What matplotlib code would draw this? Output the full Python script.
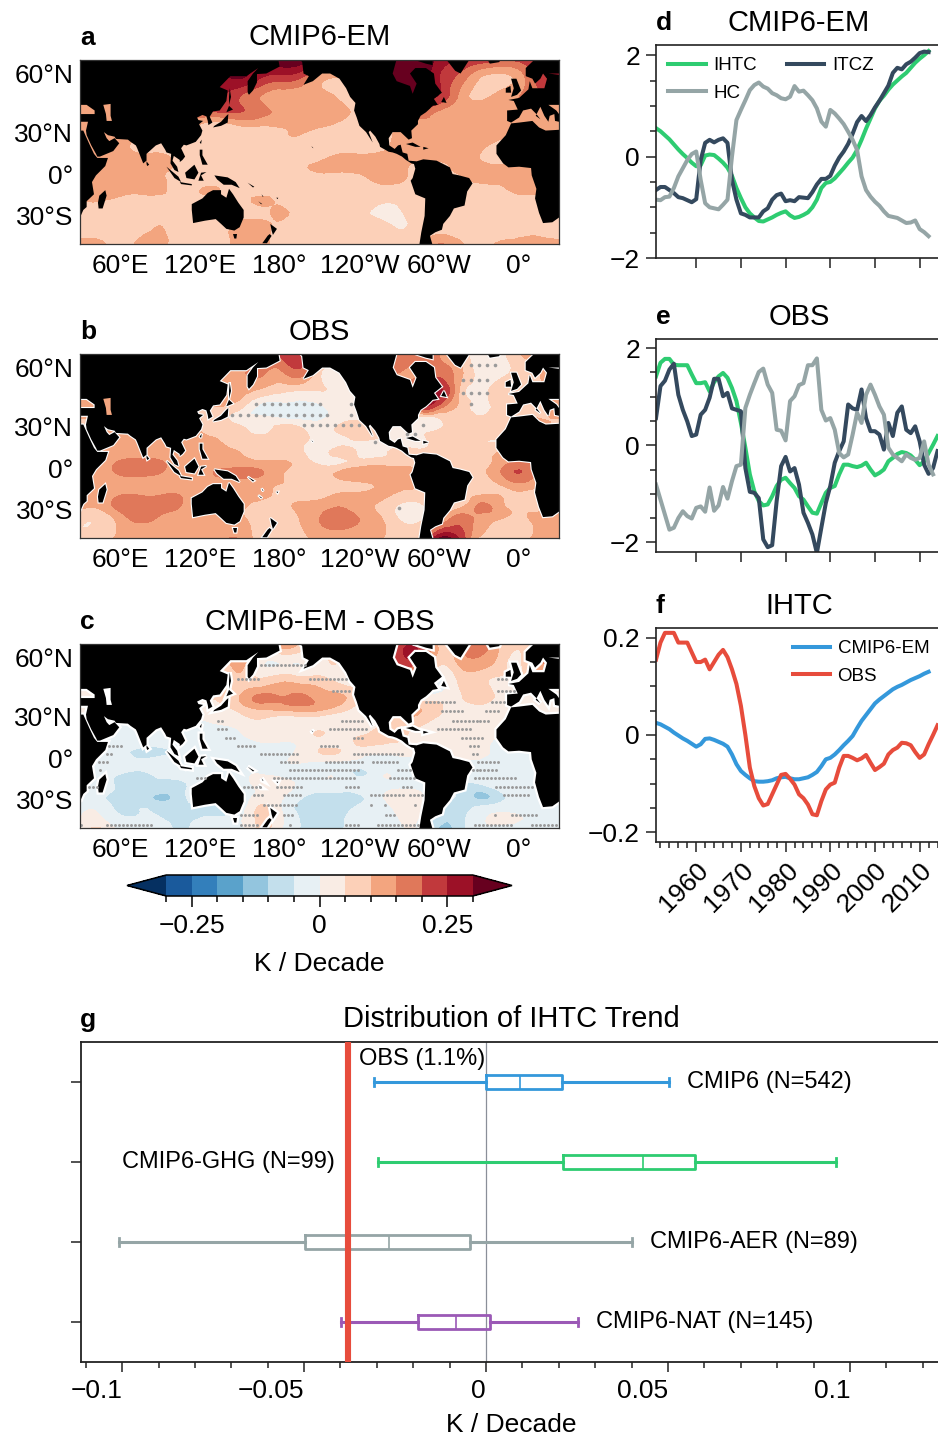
import numpy as np
import matplotlib
matplotlib.use('Agg')
import matplotlib.pyplot as plt
from matplotlib.colors import ListedColormap, BoundaryNorm
from matplotlib.ticker import MultipleLocator, FixedLocator
from matplotlib.tri import Triangulation, UniformTriRefiner

plt.rcParams['font.family'] = ['Liberation Sans', 'DejaVu Sans']

W, H = 938, 1437

# grid of the maps (degrees)
lons = [30, 45, 60, 75, 90, 105, 120, 135, 150, 165, 180, 195, 210, 225, 240, 255, 270, 285, 300, 315, 330, 345, 360, 375, 390]
lats = [65, 58, 50, 42, 35, 28, 20, 12, 4, -4, -12, -20, -28, -36, -47]

# SST trend in 0.01 K / decade
field_a = [
    [25, 25, 25, 25, 25, 25, 25, 25, 30, 32, 34, 34, 30, 20, 20, 25, 35, 35, 28, 25, 24, 22, 22, 25, 25],
    [25, 25, 25, 25, 25, 25, 25, 28, 30, 25, 22, 20, 12, 9, 9, 25, 35, 35, 25, 18, 10, 8, 12, 22, 25],
    [15, 15, 15, 15, 15, 15, 20, 25, 20, 15, 12, 12, 12, 9, 8, 20, 30, 28, 24, 14, 9, 12, 15, 18, 15],
    [12, 12, 12, 12, 12, 14, 18, 20, 20, 17, 14, 12, 12, 12, 8, 10, 15, 18, 14, 12, 12, 11, 11, 12, 12],
    [11, 11, 11, 11, 11, 11, 10, 8, 11, 11, 11, 11, 11, 9, 7, 8, 10, 13, 13, 12, 11, 11, 12, 12, 11],
    [11, 11, 11, 11, 11, 11, 9, 8, 8, 8, 9, 10, 8, 7, 7, 8, 11, 12, 12, 12, 12, 11, 11, 11, 11],
    [11, 11, 11, 9, 9, 9, 8, 8, 8, 8, 8, 8, 8, 8, 8, 9, 11, 12, 12, 11, 11, 8, 8, 11, 11],
    [11, 11, 11, 11, 11, 9, 8, 8, 8, 8, 9, 8, 9, 11, 11, 11, 11, 11, 11, 11, 10, 8, 8, 11, 11],
    [11, 11, 11, 11, 11, 9, 8, 8, 8, 8, 8, 9, 11, 11, 11, 11, 11, 8, 8, 11, 11, 11, 11, 11, 11],
    [11, 11, 11, 11, 11, 8, 8, 8, 8, 8, 8, 8, 8, 8, 9, 11, 11, 8, 8, 9, 11, 11, 11, 11, 11],
    [9, 11, 11, 11, 11, 8, 10, 10, 8, 8, 8, 8, 8, 8, 8, 8, 8, 8, 8, 8, 8, 9, 11, 11, 11],
    [10, 10, 9, 8, 8, 8, 8, 8, 8, 11, 9, 8, 8, 8, 8, 6, 6, 8, 8, 8, 8, 8, 8, 8, 10],
    [8, 8, 8, 8, 8, 8, 8, 8, 8, 8, 11, 8, 8, 8, 7, 3, 4, 8, 8, 8, 8, 8, 8, 8, 8],
    [8, 8, 8, 8, 10, 8, 8, 8, 12, 12, 9, 8, 8, 8, 8, 8, 4, 8, 8, 8, 8, 8, 9, 9, 8],
    [11, 11, 8, 11, 11, 8, 8, 8, 12, 12, 8, 8, 8, 8, 8, 8, 8, 8, 16, 11, 8, 11, 11, 11, 11],
]
field_b = [
    [10, 10, 10, 10, 10, 10, 10, 12, 14, 16, 22, 24, 14, 8, 8, 12, 16, 16, 15, 8, 3, 3, 10, 12, 12],
    [10, 10, 10, 10, 10, 10, 12, 14, 14, 16, 14, 18, 6, 3, 3, 10, 15, 15, 18, 12, 3, 3, 7, 10, 10],
    [11, 11, 11, 11, 11, 11, 12, 14, 12, 9, 6, 5, 5, 4, 4, 8, 15, 20, 26, 10, 3, 8, 10, 10, 11],
    [12, 12, 12, 12, 12, 10, 10, 10, 7, -1, -2, -2, -1, 3, 2, 5, 10, 25, 18, 9, 3, 8, 8, 9, 12],
    [10, 10, 10, 10, 10, 10, 10, 8, 2, 1, 0, -1, -1, 3, 4, 3, 3, 2, 5, 8, 6, 8, 10, 10, 10],
    [10, 10, 10, 10, 10, 10, 10, 9, 7, 3, 7, 6, 3, 6, 8, 6, 3, 3, 5, 8, 9, 8, 9, 10, 10],
    [11, 11, 11, 11, 11, 11, 11, 10, 8, 7, 7, 6, 3, 3, 5, 4, 3, 3, 8, 8, 6, 5, 8, 10, 11],
    [10, 10, 11, 12, 12, 12, 12, 11, 10, 8, 7, 6, 3, 7, 4, 3, 7, 6, 8, 8, 7, 10, 11, 11, 10],
    [11, 11, 16, 17, 16, 12, 12, 12, 12, 11, 11, 8, 4, 4, 7, 8, 8, 8, 8, 7, 8, 12, 16, 12, 11],
    [11, 11, 16, 17, 15, 12, 13, 16, 17, 16, 11, 8, 8, 11, 13, 14, 14, 10, 10, 9, 9, 14, 20, 14, 11],
    [11, 11, 11, 11, 11, 12, 11, 11, 11, 11, 10, 8, 7, 8, 9, 11, 12, 10, 10, 9, 8, 10, 14, 11, 11],
    [11, 11, 15, 15, 15, 15, 11, 11, 11, 11, 9, 8, 8, 11, 11, 11, 9, 9, 9, 8, 10, 10, 9, 10, 11],
    [11, 11, 17, 18, 17, 15, 11, 11, 11, 8, 8, 11, 13, 15, 12, 9, 4, 3, 9, 9, 16, 12, 9, 9, 9],
    [6, 6, 12, 16, 14, 12, 12, 12, 11, 8, 7, 10, 15, 18, 15, 11, 5, 4, 10, 18, 13, 10, 9, 11, 11],
    [5, 8, 11, 11, 11, 11, 11, 14, 15, 7, 5, 8, 11, 10, 10, 10, 8, 8, 32, 25, 9, 8, 9, 11, 11],
]
field_c = [
    [5, 5, 5, 5, 5, 5, 5, 5, 5, 5, 15, 10, 5, 5, 5, 15, 22, 22, 8, 12, 20, 9, 7, 6, 6],
    [5, 5, 5, 5, 5, 5, 5, 6, 12, 2, 0, 0, 3, 5, 5, 12, 20, 20, 6, 11, 13, 8, 4, 14, 10],
    [3, 3, 3, 3, 3, 3, 5, 6, 8, 6, 9, 8, 7, 4, 3, 3, 3, -3, -3, 6, 7, 4, 4, 3, 3],
    [3, 3, 3, 3, 3, 3, 5, 6, 10, 16, 15, 16, 13, 11, 6, 3, 2, 0, 2, 4, 9, 3, 2, 2, 3],
    [2, 2, 2, 2, 2, 2, 1, 3, 7, 11, 12, 13, 12, 8, 3, 3, 9, 10, 6, 2, 3, 2, 1, 2, 2],
    [1, 1, 1, 1, 1, 0, 0, 1, 3, 5, 3, 3, 3, 2, 2, 3, 9, 8, 4, 3, 3, 2, 2, 1, 1],
    [-2, -2, -2, -2, -2, -2, -2, -1, 0, 2, 2, 3, 5, 3, 3, 6, 6, 4, 2, 2, 3, 3, 1, 1, 1],
    [-2, -3, -3, -3, -3, -2, -2, -1, -1, 0, 0, 1, 4, 3, 6, 6, 5, 4, 2, 2, 3, -2, -2, -2, -2],
    [-2, -3, -4, -6, -6, -4, -2, -3, -3, -1, -1, 1, 5, 5, 2, 1, 1, 1, 1, 2, 2, -2, -4, -4, -2],
    [-1, -1, -2, -4, -2, -1, -1, -2, -2, -2, -1, 0, -1, -1, -2, -3, -1, -1, -1, -1, -1, -2, -3, -3, -2],
    [-3, -3, -5, -6, -4, -3, -1, -1, -1, 0, -1, -1, -1, -1, -6, -1, -1, -1, -1, -1, -1, -1, -2, -2, -2],
    [-2, -2, -6, -6, -6, -6, -3, -3, -3, 2, 3, -1, -2, -2, -1, -1, -1, -1, -2, -6, -6, -2, -1, -1, -2],
    [-4, -4, -7, -7, -11, -7, -3, -3, -3, 2, 1, -4, -7, -7, -6, -1, 2, 1, -3, -6, -11, -7, -3, -1, -1],
    [-1, -1, -6, -5, -6, -6, -6, -6, -3, 6, 1, -6, -7, -7, -3, -1, 1, 2, -7, -8, -3, -1, -1, -1, -1],
    [3, 6, -1, -1, -2, -6, -3, -1, -2, 6, 1, -5, -6, -6, -1, -1, -1, -1, -11, -8, -1, -1, -1, -1, -1],
]

levels = [-0.3, -0.25, -0.2, -0.15, -0.1, -0.05, 0, 0.05, 0.1, 0.15, 0.2, 0.25, 0.3]
colors = ['#1a5a9c', '#337fbb', '#5aa2cb', '#93c5de', '#c3dfec', '#e7f0f4',
          '#f9ece4', '#fcd0b8', '#f3a57f', '#e0785a', '#c1393c', '#9c1127']
under_color, over_color = '#053061', '#67001f'

# land outlines, lon / lat
asia = [(30, 65), (179, 65), (180, 62.5), (170, 60), (163, 59.8), (163, 56.5), (160, 53), (157, 51), (156, 52),
        (156, 57), (160, 60), (164, 62), (155, 59), (143, 59), (135, 54.5), (141, 53), (140, 48), (135, 43),
        (130, 42.5), (127.5, 39.5), (129.5, 36), (126.5, 34.5), (126, 37), (125, 39.7), (122, 40.5), (118, 39),
        (119, 37.5), (122.5, 37), (119.5, 35), (122, 31), (121, 28), (117, 23.5), (110, 21), (108, 21.5),
        (106, 19), (109, 13), (107, 10.5), (105, 9), (105, 10.5), (100.5, 13.5), (99.5, 10), (103, 5.5),
        (104, 1.5), (101, 3), (98, 8), (98.5, 15), (95, 16), (94, 18), (91, 22.5), (87, 21), (80, 15), (80, 10),
        (77.5, 8), (73, 19), (72, 21), (68, 23.5), (66, 25), (57, 25.5), (56, 27), (51, 28), (48, 30), (50, 26),
        (52, 24), (56, 26), (59.5, 22.5), (55, 17), (45, 13), (43, 13), (42, 15), (38.5, 21), (35, 28), (34.5, 31),
        (36, 36.5), (30, 36.5), (30, 41), (41, 41), (41, 43), (37, 45), (35, 46), (30, 46)]
africa_east = [(30, 31), (32.5, 31), (34, 28), (37.5, 21), (40.5, 15), (43, 12), (51, 12), (49, 6), (42, -1), (39, -6),
               (40.5, -15), (35, -20), (35, -24), (32.5, -26), (30, -31)]
madagascar = [(49, -12), (50, -16), (47, -25), (44, -25), (43.5, -21), (44.5, -16)]
australia = [(114, -22), (122, -18), (126, -14), (130, -12), (136, -12), (136, -15), (140, -17.5), (142, -11),
             (145, -15), (149, -21), (153, -26), (153, -31), (150, -37), (146, -39), (140, -38), (136, -35),
             (132, -32), (124, -33), (115, -34.5), (114, -26)]
tasmania = [(145, -41), (148, -41), (147.5, -43.5), (146, -43.5)]
nz_north = [(173, -35), (178, -38), (175, -41.5), (174, -39)]
nz_south = [(172.5, -41), (174, -42), (170.5, -46), (167, -46), (171, -42)]
sumatra = [(95, 5.5), (104, -2), (106, -6), (101, -3)]
java = [(105, -6), (114, -7.5), (114, -8.5), (106, -7.5)]
borneo = [(109, 1), (116, 7), (119, 1), (116, -4), (110, -3)]
sulawesi = [(119, -5), (121, 1), (125, 1.5), (121, -1), (123, -5)]
new_guinea = [(131, -1), (141, -2.5), (147, -6), (150, -10.5), (144, -8), (138, -8), (133, -4)]
luzon = [(120, 18), (122, 18), (122, 14), (126, 7), (122, 7), (120, 14)]
taiwan = [(120, 23), (121.5, 25), (121, 22)]
honshu = [(130, 33), (136, 34), (141, 36), (141.5, 41), (140, 40), (136, 36.5), (131, 34)]
hokkaido = [(140, 42), (145, 43.5), (142, 45.5)]
sakhalin = [(142, 46), (143.5, 50), (142.5, 54), (142, 50)]
sri_lanka = [(80, 9.5), (82, 7), (80.5, 6), (80, 7.5)]
solomon = [(156, -6.5), (161, -9.5), (160, -10)]
vanuatu = [(166.5, -15), (168, -17), (167, -16.5)]
caledonia = [(164, -20), (167, -22), (166, -22)]
fiji = [(177.5, -17.5), (179, -17.5), (178.5, -18.5)]
hawaii = [(204, 20.5), (205.5, 19), (204.5, 19.5)]
america = [(195, 65), (197, 64), (198, 60), (202, 59), (198, 55.5), (205, 57), (212, 60), (218, 60), (225, 58),
           (230, 54), (233, 50), (237, 47), (236, 43), (238, 39), (240, 34), (245, 30), (250, 23), (247, 30),
           (248, 31), (252, 27), (255, 22), (255.5, 20), (262, 16.5), (265, 16), (268, 15), (272, 13), (275, 10.5),
           (279, 8), (281, 7.5), (282, 4), (280, -3), (278.5, -5), (282, -15), (289.5, -18), (289, -30),
           (286.5, -40), (285, -47), (295, -47), (293, -42), (297, -40), (302, -38.5), (303, -35), (308, -30),
           (311, -25), (319, -23), (321, -13), (325, -7), (322.5, -3), (315, -1), (310, 0), (308, 5), (298, 10),
           (288, 11), (283, 9.5), (277, 10), (276, 15), (272.5, 16), (271, 21.5), (269, 21), (266.5, 18.5),
           (262.5, 21), (262, 26), (265, 30), (271, 30), (277, 25), (279.5, 26), (279, 31), (284, 35), (284, 37),
           (286, 40), (290, 42), (293, 44), (295, 45.5), (299, 46), (296, 49), (302, 52), (297, 56), (296, 60),
           (290, 62), (282, 62), (278, 60), (283, 56), (280, 51.5), (278, 55), (268, 57), (265, 60), (268, 65)]
baffin = [(295, 65), (295, 63), (290, 63.5), (283, 64.5), (280, 65)]
newfoundland = [(301.5, 47.5), (305.5, 47), (303.5, 50)]
greenland = [(305, 65), (312, 61), (316, 60), (320, 63), (323, 65)]
iceland = [(336, 65), (338, 63.5), (345, 64), (346, 65)]
cuba = [(275, 22), (280, 23), (286, 20), (282, 20)]
hispaniola = [(288, 18), (292, 19), (288, 20)]
britain = [(354, 50), (358.5, 51), (361.5, 53), (358, 58), (354, 58), (356, 54)]
ireland = [(350, 52), (354, 52), (353.5, 55), (350, 54)]
africa_west = [(390, 31.5), (380, 31), (375, 33), (370, 37), (360, 36), (354, 35.5), (350, 28), (343, 21), (343, 15),
               (348, 8), (352, 5), (360, 5.5), (369, 4.5), (369.5, -1), (373, -11), (372, -18), (375, -28),
               (378, -34.5), (385, -34), (390, -31)]
europe = [(390, 36.5), (387, 37), (386.5, 41), (383, 40), (382, 36.5), (379, 40), (376, 45), (372.5, 40), (376, 38),
          (373, 41), (369, 44), (363, 43), (360, 39), (354, 36), (351, 37), (351, 43), (359, 43.5), (356, 48),
          (352, 48.5), (360, 49.5), (367, 53.5), (368, 57), (370, 54), (379, 54), (381, 58), (378, 60), (376, 58),
          (372, 56), (370, 58), (365, 59), (365, 62), (372, 65), (390, 65), (390, 60), (382, 60), (390, 59.5),
          (390, 46), (382, 46), (388, 43), (390, 41)]
land = [asia, africa_east, madagascar, australia, tasmania, nz_north, nz_south, sumatra, java, borneo, sulawesi,
        new_guinea, luzon, taiwan, honshu, hokkaido, sakhalin, sri_lanka, solomon, vanuatu, caledonia, fiji, hawaii,
        america, baffin, newfoundland, greenland, iceland, cuba, hispaniola, britain, ireland, africa_west, europe]
caspian = [(47.5, 46), (53, 46.5), (53, 40), (54, 37), (50, 37), (49.5, 41)]

# stippling: (lat, first lon, last lon)
stipple_b = [(61, 324, 342), (55, 318, 336), (49, 318, 336), (43, 162, 210), (43, 234, 234), (43, 324, 324),
             (37, 144, 216), (37, 234, 234), (31, 198, 240), (31, 288, 288), (25, 276, 282), (19, 252, 252),
             (-29, 270, 270)]
stipple_c = [(57, 166, 200), (51, 149, 166), (51, 203, 230), (51, 344, 350), (45, 220, 233), (45, 344, 358),
             (39, 290, 313), (39, 340, 350), (33, 302, 319), (33, 335, 345), (27, 134, 139), (27, 227, 244),
             (27, 310, 337), (21, 134, 141), (21, 218, 246), (21, 299, 324), (15, 140, 148), (15, 236, 244),
             (15, 317, 334), (9, 52, 61), (9, 149, 163), (9, 211, 223), (9, 323, 330), (3, 50, 55), (3, 166, 193),
             (3, 236, 273), (3, 325, 330), (-3, 44, 51), (-3, 181, 195), (-3, 215, 244), (-3, 250, 268),
             (-3, 329, 345), (-9, 45, 45), (-9, 188, 240), (-9, 269, 280), (-9, 325, 344), (-15, 118, 125),
             (-15, 176, 238), (-15, 263, 283), (-15, 327, 358), (-21, 37, 43), (-21, 153, 165), (-21, 178, 198),
             (-21, 230, 240), (-21, 273, 280), (-21, 343, 370), (-27, 161, 168), (-27, 183, 195), (-27, 249, 273),
             (-27, 278, 288), (-27, 349, 367), (-33, 168, 193), (-33, 249, 249), (-33, 259, 259), (-33, 282, 282),
             (-39, 151, 163), (-39, 183, 189), (-39, 260, 268), (-39, 342, 342), (-39, 355, 373), (-45, 31, 31),
             (-45, 50, 85), (-45, 151, 163), (-45, 188, 188), (-45, 230, 240), (-45, 254, 273), (-45, 275, 285),
             (-45, 327, 355), (-45, 370, 388)]

lon_ticks = [60, 120, 180, 240, 300, 360]
lon_labels = ['60°E', '120°E', '180°', '120°W', '60°W', '0°']
lat_ticks = [60, 30, 0, -30]
lat_labels = ['60°N', '30°N', '0°', '30°S']

# time series
years = np.arange(1951, 2015)
ihtc_d = [.56, .50, .42, .34, .24, .14, .05, -.03, -.12, -.19, -.17, .02, .04, .03, -.04, -.12, -.22, -.38, -.62, -.82,
          -1.0, -1.12, -1.2, -1.27, -1.28, -1.24, -1.2, -1.15, -1.11, -1.08, -1.16, -1.21, -1.19, -1.15, -1.1, -1.0,
          -.85, -.62, -.52, -.5, -.43, -.33, -.23, -.12, -.02, .13, .33, .55, .75, .95, 1.1, 1.2, 1.32, 1.42, 1.5,
          1.58, 1.65, 1.75, 1.85, 1.93, 2.0, 2.08]
itcz_d = [-.66, -.6, -.6, -.66, -.72, -.8, -.82, -.86, -.9, -.84, -.07, .27, .33, .28, .33, .36, .27, -.46, -.85, -1.12,
          -1.15, -1.2, -1.2, -1.2, -1.08, -1.02, -.85, -.76, -.73, -.88, -.86, -.88, -.8, -.81, -.82, -.7, -.55, -.44,
          -.44, -.38, -.18, -.02, .1, .25, .45, .68, .8, .7, .82, .97, 1.1, 1.25, 1.4, 1.65, 1.75, 1.72, 1.82, 1.87,
          1.95, 2.04, 2.07, 2.06]
hc_d = [-.85, -.86, -.8, -.79, -.62, -.39, -.23, -.07, .05, .1, -.46, -.92, -1.0, -1.02, -1.04, -.95, -.85, 0, .72, .92,
        1.11, 1.31, 1.41, 1.46, 1.38, 1.34, 1.25, 1.21, 1.15, 1.13, 1.18, 1.39, 1.28, 1.3, 1.21, 1.11, .95, .69, .59,
        .92, .85, .75, .64, .49, .33, .13, -.39, -.66, -.79, -.89, -.97, -1.08, -1.17, -1.19, -1.21, -1.26, -1.31,
        -1.3, -1.26, -1.43, -1.49, -1.57]
ihtc_e = [1.42, 1.7, 1.78, 1.78, 1.66, 1.65, 1.65, 1.65, 1.46, 1.28, 1.28, 1.3, 1.11, 1.3, 1.42, 1.49, 1.39, 1.18, .91,
          .46, -.05, -.6, -.95, -1.15, -1.24, -1.22, -1.05, -.84, -.71, -.67, -.78, -.88, -1.05, -1.12, -1.26, -1.39,
          -1.41, -1.19, -.98, -.88, -.84, -.6, -.4, -.4, -.43, -.45, -.42, -.36, -.5, -.62, -.57, -.5, -.33, -.26, -.18,
          -.14, -.16, -.21, -.3, -.41, -.33, -.16, .01, .19]
itcz_e = [.56, 1.22, 1.33, 1.56, 1.68, 1.04, .73, .49, .19, .22, .63, .73, .98, 1.37, 1.37, 1.01, 1.08, .76, .73, .7,
          -.47, -.96, -.98, -1.09, -1.94, -2.1, -2.06, -1.15, -.43, -.24, -.54, -.47, -.81, -1.39, -1.6, -1.84, -2.22,
          -1.7, -1.19, -.84, -.36, -.12, .08, .84, .76, .73, 1.15, .56, .29, .29, .22, -.09, .46, .19, .67, .8, .32,
          .25, .39, .08, -.4, -.59, -.47, -.12]
hc_e = [-.81, -1.12, -1.43, -1.74, -1.7, -1.5, -1.36, -1.46, -1.51, -1.29, -1.26, -1.37, -.87, -1.35, -1.24, -.86, -1.1,
        -.74, -.43, -.4, .77, 1.04, 1.28, 1.51, 1.58, 1.25, 1.08, .32, .3, .1, .91, 1.01, 1.24, 1.28, 1.65, 1.65, 1.79,
        .73, .51, .56, .32, -.16, -.25, -.19, .22, .67, .46, 1.04, 1.25, 1.04, .8, .63, -.05, -.19, -.26, -.33, -.19,
        -.26, -.3, -.26, .08, -.4, -.6]
em_f = [.025, .022, .017, .012, .005, -.001, -.007, -.012, -.018, -.024, -.019, -.008, -.007, -.01, -.014, -.018, -.024,
        -.04, -.06, -.074, -.082, -.089, -.095, -.096, -.096, -.095, -.093, -.089, -.087, -.086, -.089, -.091, -.091,
        -.089, -.087, -.082, -.076, -.064, -.05, -.047, -.04, -.031, -.021, -.012, -.002, .014, .029, .041, .053, .065,
        .073, .08, .087, .094, .099, .103, .108, .113, .117, .121, .126, .13]
obs_f = [.155, .19, .21, .21, .21, .19, .19, .19, .17, .15, .15, .155, .135, .15, .165, .175, .16, .135, .105, .06, 0,
         -.067, -.105, -.13, -.145, -.142, -.122, -.102, -.082, -.08, -.09, -.102, -.122, -.13, -.143, -.163, -.165,
         -.136, -.112, -.102, -.098, -.067, -.043, -.043, -.047, -.052, -.048, -.041, -.057, -.072, -.066, -.059, -.04,
         -.031, -.026, -.016, -.017, -.021, -.035, -.047, -.04, -.019, 0, .02]

# distribution of trends
box_names = ['CMIP6 (N=542)', 'CMIP6-GHG (N=99)', 'CMIP6-AER (N=89)', 'CMIP6-NAT (N=145)']
box_colors = ['#3498db', '#2ecc71', '#95a5a6', '#9b59b6']
whis_lo = [-.0308, -.0297, -.1008, -.0398]
q1 = [0, .0212, -.0497, -.0186]
med = [.0092, .0431, -.0268, -.0082]
q3 = [.0209, .0575, -.0043, .0011]
whis_hi = [.0503, .0962, .0402, .0252]
obs_trend = -.038
box_text_x = [.0552, -.1000, .0450, .0302]

green, dark, gray, blue, red = '#2ecc71', '#34495e', '#95a5a6', '#3498db', '#e74c3c'
spine_col = '#222222'


def merc(lat):
    return np.log(np.tan(np.pi / 4 + np.radians(np.clip(lat, -85, 85)) / 2))


def inv_merc(y):
    return np.degrees(2 * np.arctan(np.exp(y)) - np.pi / 2)


def ax_px(left, top, right, bottom):
    return fig.add_axes([left / W, 1 - bottom / H, (right - left) / W, (bottom - top) / H])


def label(text, x, y, **kw):
    fig.text(x / W, 1 - y / H, text, va='center', **kw)


fig = plt.figure(figsize=(W / 100, H / 100), dpi=100)

cmap = ListedColormap(colors)
cmap.set_under(under_color)
cmap.set_over(over_color)
norm = BoundaryNorm(levels, cmap.N)

# триангуляция для сглаженных контуров
lon2d, lat2d = np.meshgrid(lons, lats)
triang = Triangulation(lon2d.ravel(), lat2d.ravel())
refiner = UniformTriRefiner(triang)

# карты
map_tops = [60, 354, 644]
fields = [field_a, field_b, field_c]
stipples = [[], stipple_b, stipple_c]
halos = [0, 1.6, 3.2]
caspian_cols = ['#f3a57f', '#f3a57f', '#ffffff']
dlon = [6, 6, 3]
dot_size = [0, 2.6, 2.1]
map_titles = ['CMIP6-EM', 'OBS', 'CMIP6-EM - OBS']
for i, top in enumerate(map_tops):
    ax = ax_px(80, top, 559, top + 184)
    ax.set_yscale('function', functions=(merc, inv_merc))
    tri_fine, z_fine = refiner.refine_field(np.array(fields[i], dtype=float).ravel() / 100, subdiv=3)
    cf = ax.tricontourf(tri_fine, z_fine, levels=levels, cmap=cmap, norm=norm, extend='both')
    for poly in land:
        xs, ys = zip(*poly)
        if halos[i]:
            ax.fill(xs, ys, facecolor='white', edgecolor='white', linewidth=halos[i], zorder=3)
        ax.fill(xs, ys, facecolor='black', edgecolor='none', zorder=4)
    xs, ys = zip(*caspian)
    ax.fill(xs, ys, facecolor=caspian_cols[i], edgecolor='none', zorder=5)
    for lat, lon0, lon1 in stipples[i]:
        dots = np.arange(lon0, lon1 + 1, dlon[i])
        ax.plot(dots, [lat] * len(dots), ls='none', marker='o', ms=dot_size[i], mfc='#9a9a9a', mec='none', zorder=6)
    ax.set_xlim(30, 390)
    ax.set_ylim(-46.4, 64.7)
    ax.set_xticks(lon_ticks, lon_labels)
    ax.set_yticks(lat_ticks, lat_labels)
    ax.minorticks_off()
    ax.tick_params(axis='x', length=0, labelsize=19, pad=7)
    ax.tick_params(axis='y', length=0, labelsize=19, pad=5)
    for spine in ax.spines.values():
        spine.set_linewidth(0.9)
        spine.set_color('#333333')
        spine.set_zorder(8)
    label(map_titles[i], 319.5, top - 22 - (1 if i == 0 else 0), fontsize=21, ha='center')
    label('abc'[i], 80, top - 22, fontsize=19, ha='left', fontweight='bold')

# цветовая шкала
cax = ax_px(127, 875, 512, 896)
cb = fig.colorbar(cf, cax=cax, orientation='horizontal', extend='both', extendfrac=0.128, drawedges=False)
cb.set_ticks([-0.25, 0, 0.25], labels=['\u22120.25', '0', '0.25'])
cax.xaxis.set_minor_locator(FixedLocator(levels))
cax.tick_params(axis='x', which='major', length=8, width=1.1, labelsize=19, pad=5)
cax.tick_params(axis='x', which='minor', length=4.5, width=1.1)
cb.outline.set_linewidth(1.1)
label('K / Decade', 319.5, 964, fontsize=19, ha='center')


def style_series(ax, major_y, minor_y):
    ax.set_xlim(1951, 2015)
    ax.xaxis.set_major_locator(MultipleLocator(10))
    ax.yaxis.set_major_locator(MultipleLocator(major_y))
    ax.yaxis.set_minor_locator(MultipleLocator(minor_y))
    ax.tick_params(which='major', length=7.5, width=1.1, labelsize=19, color=spine_col, pad=4)
    ax.tick_params(which='minor', length=4, width=1.1, color=spine_col)
    for spine in ax.spines.values():
        spine.set_linewidth(1.2)
        spine.set_color(spine_col)


# панель d
ax = ax_px(656, 45, 942, 258)
l1, = ax.plot(years[:len(ihtc_d)], ihtc_d, color=green, lw=2.9)
l2, = ax.plot(years[:len(itcz_d)], itcz_d, color=dark, lw=2.9)
l3, = ax.plot(years[:len(hc_d)], hc_d, color=gray, lw=2.9)
ax.set_ylim(-2, 2.2)
style_series(ax, 2, 0.5)
ax.set_yticks([-2, 0, 2], ['\u22122', '0', '2'])
ax.tick_params(axis='x', labelbottom=False)
ax.legend([l1, l3, l2], ['IHTC', 'HC', 'ITCZ'], ncol=2, loc='upper left', frameon=False, fontsize=13.5,
          bbox_to_anchor=(0, 1.0), borderaxespad=0.25, handlelength=2.0, handletextpad=0.4, columnspacing=1.6,
          labelspacing=0.55)

# панель e
ax = ax_px(656, 339, 942, 552)
ax.plot(years[:len(ihtc_e)], ihtc_e, color=green, lw=2.9)
ax.plot(years[:len(itcz_e)], itcz_e, color=dark, lw=2.9)
ax.plot(years[:len(hc_e)], hc_e, color=gray, lw=2.9)
ax.set_ylim(-2.2, 2.19)
style_series(ax, 2, 0.5)
ax.set_yticks([-2, 0, 2], ['\u22122', '0', '2'])
ax.tick_params(axis='x', labelbottom=False)

# панель f
ax = ax_px(656, 628, 942, 842)
l1, = ax.plot(years[:len(em_f)], em_f, color=blue, lw=2.9)
l2, = ax.plot(years[:len(obs_f)], obs_f, color=red, lw=2.9)
ax.set_ylim(-0.22, 0.22)
style_series(ax, 0.2, 0.05)
ax.set_yticks([-0.2, 0, 0.2], ['\u22120.2', '0', '0.2'])
ax.xaxis.set_minor_locator(MultipleLocator(2))
ax.set_xticks([1960, 1970, 1980, 1990, 2000, 2010], ['1960', '1970', '1980', '1990', '2000', '2010'])
for t in ax.get_xticklabels():
    t.set_rotation(45)
    t.set_ha('right')
    t.set_rotation_mode('anchor')
ax.legend([l1, l2], ['CMIP6-EM', 'OBS'], loc='upper left', frameon=False, fontsize=13.5,
          bbox_to_anchor=(0.435, 1.0), borderaxespad=0.25, handlelength=2.0, handletextpad=0.4, labelspacing=0.55)

for title, letter, y in zip(['CMIP6-EM', 'OBS', 'IHTC'], 'def', [23, 317, 606]):
    label(title, 799, y, fontsize=21, ha='center')
    label(letter, 656, y, fontsize=19, ha='left', fontweight='bold')

# панель g
ax = ax_px(81, 1042, 941, 1362)
ax.axvline(0, color='#8a8f99', lw=0.9, zorder=1)
for i in range(4):
    stats = [dict(whislo=whis_lo[i], q1=q1[i], med=med[i], q3=q3[i], whishi=whis_hi[i], fliers=[])]
    props = dict(color=box_colors[i], linewidth=2.0)
    ax.bxp(stats, positions=[i], vert=False, widths=0.17, capwidths=0.11, showfliers=False, manage_ticks=False,
           boxprops=props, whiskerprops=dict(color=box_colors[i], linewidth=2.2),
           capprops=dict(color=box_colors[i], linewidth=2.0),
           medianprops=dict(color=box_colors[i], linewidth=1.2))
    ax.text(box_text_x[i], i + 0.005, box_names[i], fontsize=17, va='center', ha='left')
ax.axvline(obs_trend, color=red, lw=4.4, zorder=5)
ax.text(-0.0349, -0.29, 'OBS (1.1%)', fontsize=17, va='center', ha='left')
ax.set_xlim(-0.1113, 0.125)
ax.set_ylim(3.5, -0.5)
ax.set_yticks([0, 1, 2, 3], ['', '', '', ''])
ax.set_xticks([-0.1, -0.05, 0, 0.05, 0.1], ['\u22120.1', '\u22120.05', '0', '0.05', '0.1'])
ax.xaxis.set_minor_locator(MultipleLocator(0.01))
for t in ax.get_xticklabels():
    t.set_ha('right')
ax.tick_params(which='major', length=7.5, width=1.1, labelsize=19, color=spine_col, pad=5)
ax.tick_params(which='minor', length=4, width=1.1, color=spine_col)
for spine in ax.spines.values():
    spine.set_linewidth(1.3)
    spine.set_color(spine_col)
label('Distribution of IHTC Trend', 511, 1019, fontsize=21, ha='center')
label('g', 80, 1020, fontsize=19, ha='left', fontweight='bold')
label('K / Decade', 511, 1425, fontsize=19, ha='center')

fig.savefig('out.png', dpi=100)
